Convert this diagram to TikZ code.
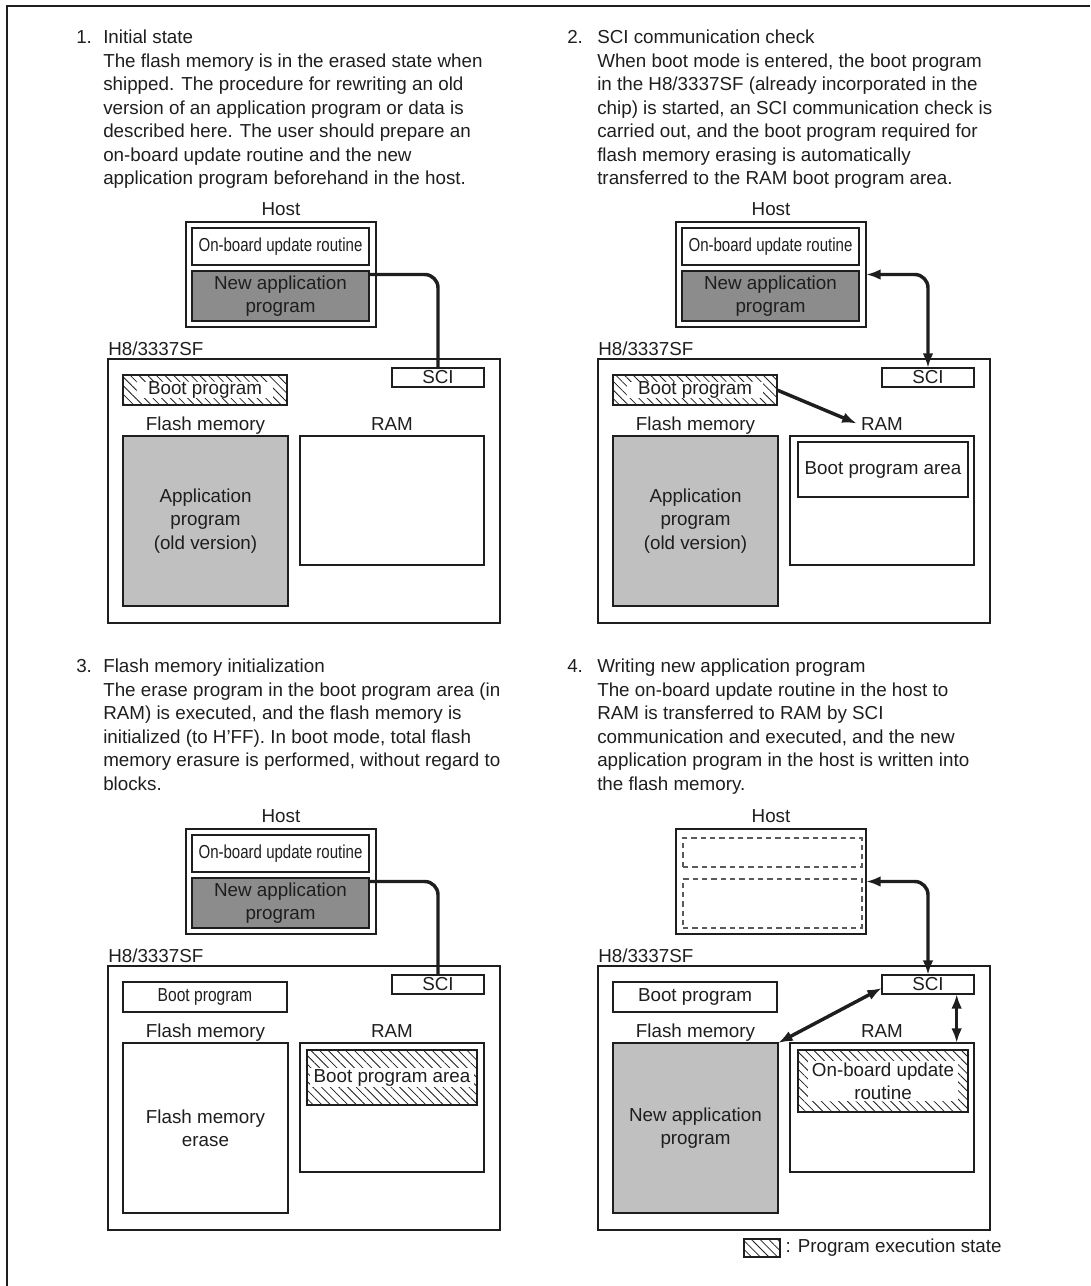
\documentclass[tikz,border=0pt]{standalone}
\usepackage{fontspec}
\setmainfont{Liberation Sans}
\usepackage{graphicx}
\usetikzlibrary{arrows.meta,positioning,calc,patterns.meta}
\definecolor{ink}{HTML}{1E1E1E}
\definecolor{darkfill}{HTML}{8C8C8C}
\definecolor{lightfill}{HTML}{C0C0C0}
\definecolor{dashgray}{HTML}{5A5A5A}
\tikzset{
  sz/.style 2 args={minimum width=#1*0.75pt, minimum height=#2*0.75pt},
  box/.style={draw=ink, line width=1.1pt, inner sep=0pt, outer sep=0pt},
  hatchbox/.style={box, pattern={Lines[angle=-45,distance=4.6pt,line width=0.6pt]}, pattern color=ink},
  dashbox/.style={draw=dashgray, line width=0.8pt, dash pattern=on 4pt off 3pt, inner sep=0pt},
  txt/.style={font=\fontsize{14.1}{17.6}\selectfont, text=ink, inner sep=0pt},
  para/.style={txt, align=left, anchor=north west},
  blank/.style={txt, fill=white, inner xsep=3pt, inner ysep=1pt, align=center},
  conn/.style={draw=ink, line width=2.6pt, rounded corners=10pt},
  one/.style={conn, arrows={-Latex[length=11pt,width=8pt]}},
  dbl/.style={conn, arrows={Latex[length=11pt,width=8pt]-Latex[length=11pt,width=8pt]}}
}
\begin{document}
\begin{tikzpicture}[x=0.75pt,y=-0.75pt]
  \useasboundingbox (0,0) rectangle (1090,1286);
  \draw[ink,line width=1.1pt] (7,1286) -- (7,6) -- (1090,6);

  \foreach \n/\dx/\dy/\fl/\bt/\bs in {1/0/0/lightfill/hatchbox/1,2/490/0/lightfill/hatchbox/1,3/0/607/white/box/0.83,4/490/607/lightfill/box/1} {
    \begin{scope}[shift={(\dx,\dy)}]
      \node[box, sz={190}{105}] (host\n) at (281,274.5) {};
      \node[txt, anchor=base] (hostl\n) at ([yshift=5pt]host\n.north) {Host};
      \node[box, sz={392}{264}] (chip\n) at (304,491) {};
      \node[txt, anchor=base west] (chipl\n) at ([yshift=3pt]chip\n.north west) {H8/3337SF};
      \node[box, sz={92}{19}] (sci\n) at (438,377.5) {};
      \node[txt] (scit\n) at (sci\n) {SCI};
      \node[\bt, sz={164}{30}] (boot\n) at (205,390) {};
      \node[blank, inner xsep=8pt, inner ysep=0pt] (boott\n) at (boot\n) {\scalebox{\bs}[1]{Boot program}};
      \node[box, fill=\fl, sz={165}{170}] (flash\n) at (205.5,521) {};
      \node[txt, anchor=base] (flashl\n) at ([yshift=4.5pt]flash\n.north) {Flash memory};
      \node[box, sz={184}{129}] (ram\n) at (392,500.5) {};
      \node[txt, anchor=base] (raml\n) at ([yshift=4.5pt]ram\n.north) {RAM};
    \end{scope}
  }

  \foreach \n/\dx/\dy in {1/0/0,2/490/0,3/0/607} {
    \begin{scope}[shift={(\dx,\dy)}]
      \node[box, sz={177}{37}] (upd\n) at (280.5,246.5) {};
      \node[txt] (updt\n) at (upd\n) {\scalebox{0.8}[1]{On-board update routine}};
      \node[box, fill=darkfill, sz={177}{50}] (app\n) at (280.5,296) {};
      \node[txt, align=center] (appt\n) at (app\n) {New application\\program};
    \end{scope}
  }

  \node[para] (num1) at (76,30) {1.};
  \node[para] (desc1) at (103,30) {Initial state\\The flash memory is in the erased state when\\shipped. The procedure for rewriting an old\\version of an application program or data is\\described here. The user should prepare an\\on-board update routine and the new\\application program beforehand in the host.};
  \node[txt, align=center] (old1) at (flash1) {Application\\program\\(old version)};
  \draw[conn] (app1.east |- host1.east) -| (sci1.north);

  \node[para] (num2) at (567,30) {2.};
  \node[para] (desc2) at (597,30) {SCI communication check\\When boot mode is entered, the boot program\\in the H8/3337SF (already incorporated in the\\chip) is started, an SCI communication check is\\carried out, and the boot program required for\\flash memory erasing is automatically\\transferred to the RAM boot program area.};
  \node[txt, align=center] (old2) at (flash2) {Application\\program\\(old version)};
  \node[box, sz={170}{55}] (area2) at (883,469.5) {};
  \node[txt] (areat2) at (area2) {Boot program area};
  \draw[dbl] (sci2.north) |- (host2.east);
  \draw[one] (boot2.east) -- ([xshift=-3pt]raml2.west);

  \node[para] (num3) at (76,659) {3.};
  \node[para] (desc3) at (103,659) {Flash memory initialization\\The erase program in the boot program area (in\\RAM) is executed, and the flash memory is\\initialized (to H'FF). In boot mode, total flash\\memory erasure is performed, without regard to\\blocks.};
  \node[txt, align=center] (erase3) at (flash3) {Flash memory\\erase};
  \node[hatchbox, sz={170}{55}] (area3) at (392,1077.5) {};
  \node[blank] (areat3) at (area3) {Boot program area};
  \draw[conn] (app3.east |- host3.east) -| (sci3.north);

  \node[para] (num4) at (567,659) {4.};
  \node[para] (desc4) at (597,659) {Writing new application program\\The on-board update routine in the host to\\RAM is transferred to RAM by SCI\\communication and executed, and the new\\application program in the host is written into\\the flash memory.};
  \node[dashbox, sz={179}{29}] (upd4) at (772.5,852.5) {};
  \node[dashbox, sz={179}{49}] (app4) at (772.5,903.5) {};
  \node[txt, align=center] (new4) at (flash4) {New application\\program};
  \node[hatchbox, sz={170}{62}] (area4) at (883,1081) {};
  \node[blank] (areat4) at (area4) {On-board update\\routine};
  \draw[dbl] (sci4.north) |- (host4.east);
  \draw[dbl] ([yshift=-2.6pt]sci4.west) -- (flash4.north east);
  \draw[dbl] ([xshift=-13pt]sci4.south east) -- ([xshift=-13pt]sci4.south east |- ram4.north);

  \node[hatchbox, sz={36}{18}] (key) at (762,1248) {};
  \node[txt, anchor=west] (keyt) at ([xshift=4pt]key.east) {: Program execution state};
\end{tikzpicture}
\end{document}
